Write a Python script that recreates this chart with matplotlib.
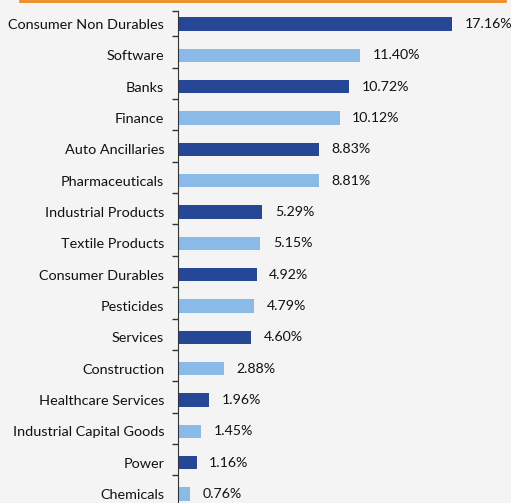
import matplotlib.pyplot as plt
from matplotlib.lines import Line2D

# Sector allocation (% of net assets)
sectors = ["Consumer Non Durables", "Software", "Banks", "Finance", "Auto Ancillaries",
           "Pharmaceuticals", "Industrial Products", "Textile Products", "Consumer Durables",
           "Pesticides", "Services", "Construction", "Healthcare Services",
           "Industrial Capital Goods", "Power", "Chemicals"]
weights = [17.16, 11.40, 10.72, 10.12, 8.83, 8.81, 5.29, 5.15, 4.92, 4.79, 4.60,
           2.88, 1.96, 1.45, 1.16, 0.76]

dark_blue = "#264796"
light_blue = "#8abbe8"
bg = "#f4f4f4"

plt.rcParams["font.family"] = ["Lato", "DejaVu Sans"]

W, H = 511, 503
fig = plt.figure(figsize=(W / 100, H / 100), dpi=100, facecolor=bg)

# axes: x=0 at pixel 178, 15.97 px per percent; rows 31.47 px apart, first row at y=24
x0, px_per = 178, 15.97
pitch, y_first = 31.47, 24
ax = fig.add_axes([x0 / W, 0, 1 - x0 / W, 1])
ax.set_facecolor(bg)
ax.set_xlim(0, (W - x0) / px_per)
ax.set_ylim(15 + (H - 494) / pitch, -y_first / pitch)

pos = list(range(len(sectors)))
colors = [dark_blue if i % 2 == 0 else light_blue for i in pos]
ax.barh(pos, weights, height=0.43, color=colors)

for i, v in enumerate(weights):
    ax.annotate(f"{v:.2f}%", (v, i), xytext=(9, 0), textcoords="offset points",
                va="center", ha="left", fontsize=10.2, color="#111111")

ax.set_yticks(pos)
ax.set_yticklabels(sectors, fontsize=10.4, color="#111111")
ax.tick_params(axis="y", length=0, pad=10)
ax.set_yticks([-0.42] + [k + 0.4 for k in range(15)], minor=True)
ax.tick_params(axis="y", which="minor", length=4, width=1, color="#333333")
ax.set_xticks([])

for s in ["top", "right", "bottom"]:
    ax.spines[s].set_visible(False)
ax.spines["left"].set_color("#333333")
ax.spines["left"].set_bounds(-0.42, 16)

# orange rule across the top
fig.add_artist(Line2D([20 / W, 505 / W], [1 - 1 / H, 1 - 1 / H], color="#f08a1c", lw=2))

fig.savefig("out.png", dpi=100, facecolor=bg)
